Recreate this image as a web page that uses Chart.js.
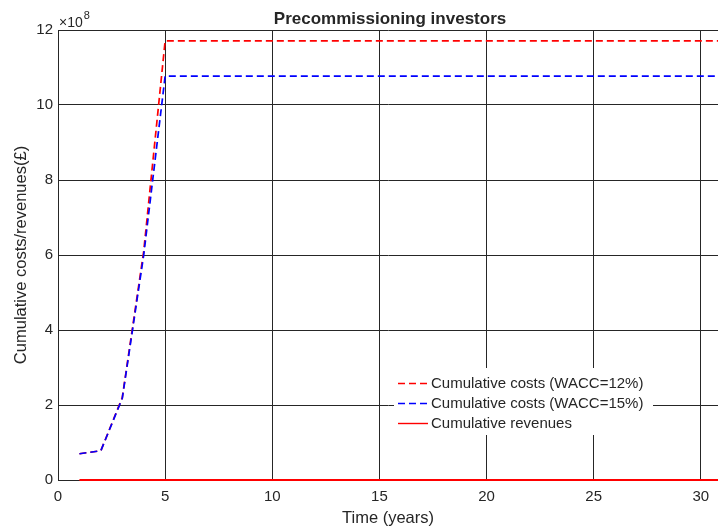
<!DOCTYPE html>
<html>
<head>
<meta charset="utf-8">
<script src="https://cdn.jsdelivr.net/npm/chart.js@4.4.0/dist/chart.umd.min.js"></script>
<style>
    html, body { margin: 0; padding: 0; background: #fff; }
    #wrap { width: 718px; height: 531px; position: relative; }
</style>
</head>
<body>
<div id="wrap"><canvas id="investorChart"></canvas></div>
<script>
const years = [1, 2, 3, 4, 5, 6, 7, 8, 9, 10, 11, 12, 13, 14, 15, 16, 17, 18, 19, 20,
    21, 22, 23, 24, 25, 26, 27, 28, 29, 30, 31];
const costsWacc12 = [0.70e8, 0.78e8, 2.20e8, 6.10e8, 11.71e8, 11.71e8, 11.71e8, 11.71e8, 11.71e8, 11.71e8,
    11.71e8, 11.71e8, 11.71e8, 11.71e8, 11.71e8, 11.71e8, 11.71e8, 11.71e8, 11.71e8, 11.71e8,
    11.71e8, 11.71e8, 11.71e8, 11.71e8, 11.71e8, 11.71e8, 11.71e8, 11.71e8, 11.71e8, 11.71e8, 11.71e8];
const costsWacc15 = [0.70e8, 0.78e8, 2.18e8, 6.00e8, 10.77e8, 10.77e8, 10.77e8, 10.77e8, 10.77e8, 10.77e8,
    10.77e8, 10.77e8, 10.77e8, 10.77e8, 10.77e8, 10.77e8, 10.77e8, 10.77e8, 10.77e8, 10.77e8,
    10.77e8, 10.77e8, 10.77e8, 10.77e8, 10.77e8, 10.77e8, 10.77e8, 10.77e8, 10.77e8, 10.77e8, 10.77e8];
const revenues = [0, 0, 0, 0, 0, 0, 0, 0, 0, 0, 0, 0, 0, 0, 0, 0, 0, 0, 0, 0,
    0, 0, 0, 0, 0, 0, 0, 0, 0, 0, 0];
const xTicks = [0, 5, 10, 15, 20, 25, 30];
const yTicks = [0, 2, 4, 6, 8, 10, 12];

const textColor = '#262626';
const fontName = '"Liberation Sans", Arial, Helvetica, sans-serif';

function toPoints(values) {
    return years.map((x, i) => ({ x: x, y: values[i] }));
}

// titre, exposant et legende dessines a la main (style MATLAB)
const matlabDecor = {
    id: 'matlabDecor',
    afterDraw(chart) {
        const ctx = chart.ctx;
        const area = chart.chartArea;
        ctx.save();
        ctx.fillStyle = textColor;

        // titre
        ctx.font = 'bold 17px ' + fontName;
        ctx.textAlign = 'center';
        ctx.textBaseline = 'alphabetic';
        ctx.fillText('Precommissioning investors', (area.left + area.right) / 2 + 2, 24);

        // exposant x10^8
        ctx.textAlign = 'left';
        ctx.font = '14px ' + fontName;
        ctx.fillText('\u00d710', area.left + 1, 27);
        const w = ctx.measureText('\u00d710').width;
        ctx.font = '11px ' + fontName;
        ctx.fillText('8', area.left + 2 + w, 19);

        // legende
        const box = { x: 394, y: 368, w: 259, h: 67 };
        ctx.fillStyle = '#fff';
        ctx.fillRect(box.x, box.y, box.w, box.h);
        const rows = [383, 403, 423];
        chart.data.datasets.forEach((ds, i) => {
            const y = rows[i];
            ctx.beginPath();
            ctx.strokeStyle = ds.borderColor;
            ctx.lineWidth = 1.4;
            ctx.setLineDash(ds.borderDash || []);
            ctx.moveTo(398, y + 0.5);
            ctx.lineTo(428, y + 0.5);
            ctx.stroke();
            ctx.setLineDash([]);
            ctx.fillStyle = textColor;
            ctx.font = '15px ' + fontName;
            ctx.textBaseline = 'middle';
            ctx.fillText(ds.label, 431, y + 1);
        });
        ctx.restore();
    }
};

function initializeChart() {
    const ctx = document.getElementById('investorChart').getContext('2d');
    return new Chart(ctx, {
        type: 'line',
        data: {
            datasets: [{
                label: 'Cumulative costs (WACC=12%)',
                data: toPoints(costsWacc12),
                borderColor: 'rgb(255, 0, 0)',
                borderWidth: 1.7,
                borderDash: [7, 4],
                order: 2
            }, {
                label: 'Cumulative costs (WACC=15%)',
                data: toPoints(costsWacc15),
                borderColor: 'rgb(0, 0, 255)',
                borderWidth: 1.7,
                borderDash: [7, 4],
                order: 1
            }, {
                label: 'Cumulative revenues',
                data: toPoints(revenues),
                borderColor: 'rgb(255, 0, 0)',
                borderWidth: 2,
                clip: 3,
                order: 0
            }]
        },
        options: {
            responsive: true,
            maintainAspectRatio: false,
            animation: false,
            devicePixelRatio: 1,
            layout: { padding: { top: 30, left: 0, right: 0, bottom: 0 } },
            elements: {
                point: { radius: 0, hoverRadius: 0 },
                line: { tension: 0, fill: false }
            },
            scales: {
                x: {
                    type: 'linear',
                    min: 0,
                    max: 30.8,
                    afterBuildTicks: (scale) => {
                        scale.ticks = xTicks.map(v => ({ value: v }));
                    },
                    afterFit: (scale) => { scale.height = 51; },
                    grid: {
                        color: textColor,
                        lineWidth: 1,
                        drawTicks: false
                    },
                    border: { color: textColor, width: 1 },
                    ticks: {
                        color: textColor,
                        padding: 8,
                        maxRotation: 0,
                        font: { family: fontName, size: 15 }
                    },
                    title: {
                        display: true,
                        text: 'Time (years)',
                        color: textColor,
                        padding: { top: 0, bottom: 3 },
                        font: { family: fontName, size: 16.5 }
                    }
                },
                y: {
                    type: 'linear',
                    min: 0,
                    max: 12e8,
                    afterBuildTicks: (scale) => {
                        scale.ticks = yTicks.map(v => ({ value: v * 1e8 }));
                    },
                    afterFit: (scale) => { scale.width = 58; },
                    grid: {
                        color: textColor,
                        lineWidth: 1,
                        drawTicks: false
                    },
                    border: { color: textColor, width: 1 },
                    ticks: {
                        color: textColor,
                        padding: 5,
                        font: { family: fontName, size: 15 },
                        callback: (v) => String(Math.round(v / 1e8))
                    },
                    title: {
                        display: true,
                        text: 'Cumulative costs/revenues(\u00a3)',
                        color: textColor,
                        padding: { top: 12, bottom: 0 },
                        font: { family: fontName, size: 16.5 }
                    }
                }
            },
            plugins: {
                legend: { display: false },
                tooltip: { enabled: false }
            }
        },
        plugins: [matlabDecor]
    });
}

document.addEventListener('DOMContentLoaded', () => {
    initializeChart();
});
</script>
</body>
</html>
